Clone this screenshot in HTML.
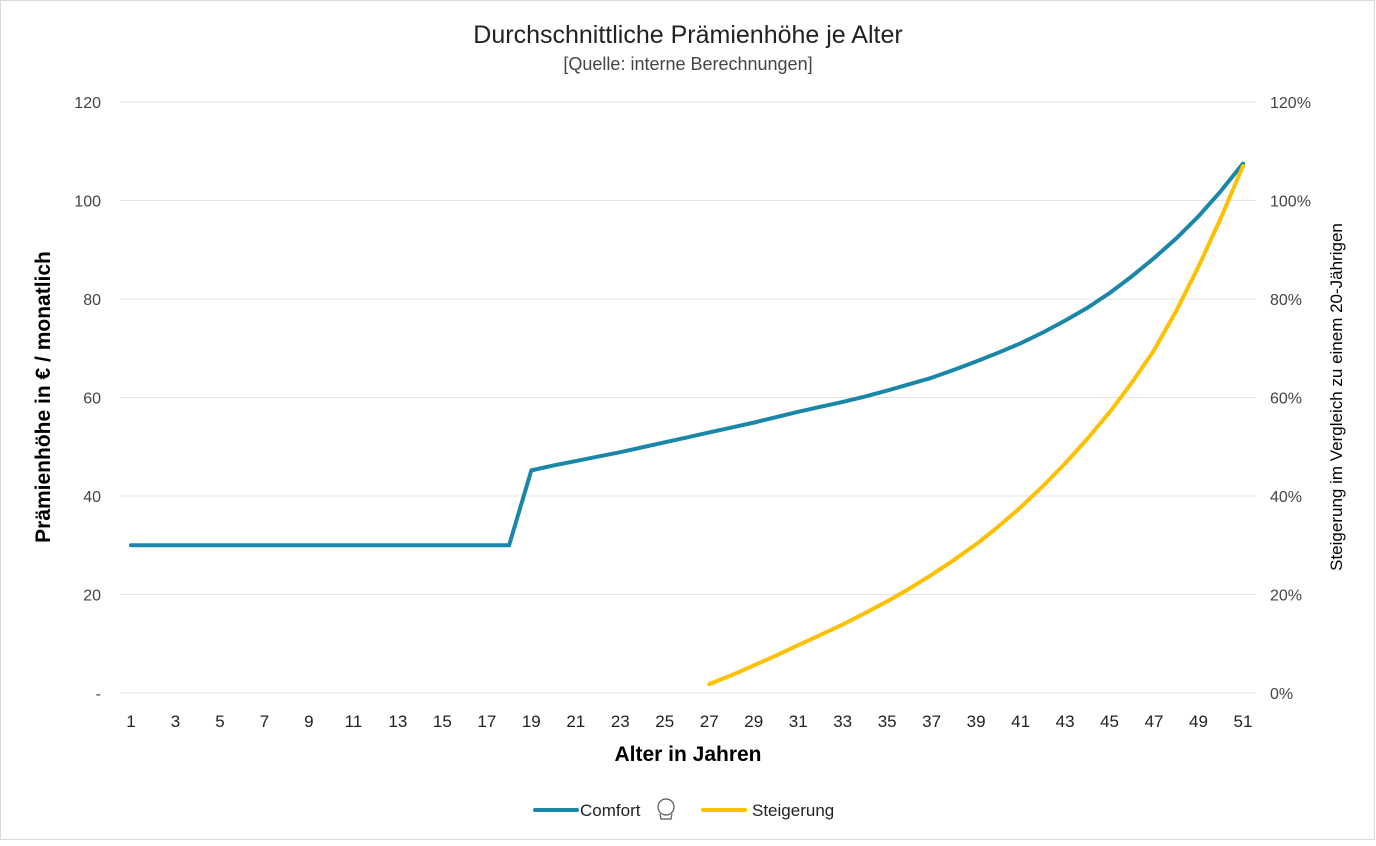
<!DOCTYPE html>
<html><head><meta charset="utf-8"><style>
html,body{margin:0;padding:0;background:#fff}
body{width:1376px;height:841px;overflow:hidden;font-family:"Liberation Sans",sans-serif}
</style></head><body>
<svg id="chart" width="1376" height="841" xmlns="http://www.w3.org/2000/svg" font-family="Liberation Sans, sans-serif">
<rect x="0.5" y="0.5" width="1374" height="839" fill="#fff" stroke="#d9d9d9"/>
<text x="688" y="43" text-anchor="middle" font-size="25" fill="#222">Durchschnittliche Prämienhöhe je Alter</text>
<text x="688" y="70" text-anchor="middle" font-size="18" fill="#444">[Quelle: interne Berechnungen]</text>
<g id="grid"></g>
<g id="axes"></g>
<g id="series"></g>
<text x="688" y="761" text-anchor="middle" font-size="21" font-weight="bold" fill="#000">Alter in Jahren</text>
<text transform="translate(50,397) rotate(-90)" text-anchor="middle" font-size="21" font-weight="bold" fill="#000">Prämienhöhe in € / monatlich</text>
<text transform="translate(1342,397) rotate(-90)" text-anchor="middle" font-size="17" fill="#000">Steigerung im Vergleich zu einem 20-Jährigen</text>
<g>
 <g>
  <line x1="535" y1="810" x2="577" y2="810" stroke="#1a86a8" stroke-width="4" stroke-linecap="round"/>
  <text x="580" y="816" font-size="17" fill="#222">Comfort</text>
  <g fill="none" stroke="#555" stroke-width="1.2">
   <circle cx="666" cy="807" r="8"/><path d="M660 814 L661 819 L671 819 L672 814"/>
  </g>
 </g>
 <g>
  <line x1="703" y1="810" x2="745" y2="810" stroke="#ffc000" stroke-width="4" stroke-linecap="round"/>
  <text x="752" y="816" font-size="17" fill="#222">Steigerung</text>
 </g>
</g>
</svg>
<script>
const comfortAges=[1,2,3,4,5,6,7,8,9,10,11,12,13,14,15,16,17,18,19,20,21,22,23,24,25,26,27,28,29,30,31,32,33,34,35,36,37,38,39,40,41,42,43,44,45,46,47,48,49,50,51];
const comfortValues=[30,30,30,30,30,30,30,30,30,30,30,30,30,30,30,30,30,30,45.2,46.2,47.1,48.0,48.9,49.9,50.9,51.9,52.9,53.9,54.9,56.0,57.1,58.1,59.1,60.2,61.4,62.7,64.0,65.6,67.3,69.1,71.0,73.2,75.6,78.2,81.2,84.6,88.3,92.3,96.8,101.9,107.5];
const steigerungAges=[27,28,29,30,31,32,33,34,35,36,37,38,39,40,41,42,43,44,45,46,47,48,49,50,51];
const steigerungValues=[1.8,3.6,5.6,7.6,9.7,11.8,13.9,16.2,18.6,21.2,24.0,27.0,30.2,33.8,37.7,42.0,46.6,51.6,57.0,63.0,69.6,77.6,86.6,96.4,107];
const yTicks=[0,20,40,60,80,100,120];
const yTickLabels=["-","20","40","60","80","100","120"];
const y2Ticks=[0,20,40,60,80,100,120];
const y2TickLabels=["0%","20%","40%","60%","80%","100%","120%"];
const xTickLabels=[1,3,5,7,9,11,13,15,17,19,21,23,25,27,29,31,33,35,37,39,41,43,45,47,49,51];

const NS="http://www.w3.org/2000/svg";
const X0=131,X1=1243,Y0=693,Y1=102,L=120,R=1256;
const xS=a=>X0+(a-1)*(X1-X0)/50;
const yS=v=>Y0-v*(Y0-Y1)/120;
const y2S=v=>Y0-v*(Y0-Y1)/120;
function mk(t,at,p){const e=document.createElementNS(NS,t);for(const k in at)e.setAttribute(k,at[k]);p.appendChild(e);return e;}
const grid=document.getElementById('grid'),axes=document.getElementById('axes'),ser=document.getElementById('series');
yTicks.forEach((v,i)=>{
 const l=mk('line',{x1:L,x2:R,y1:yS(v),y2:yS(v),stroke:'#e3e3e3','stroke-width':1},grid);
 
 
 const t=mk('text',{x:101,y:yS(v)+6,'text-anchor':'end','font-size':16,fill:'#444'},axes);
 t.textContent=yTickLabels[i];
 
 
});
y2Ticks.forEach((v,i)=>{
 const t=mk('text',{x:1270,y:y2S(v)+6,'font-size':16,fill:'#444'},axes);
 t.textContent=y2TickLabels[i];
 
 
});
xTickLabels.forEach(a=>{
 const t=mk('text',{x:xS(a),y:727,'text-anchor':'middle','font-size':17,fill:'#222'},axes);
 t.textContent=a;
 
 
});
const p1=mk('polyline',{points:comfortAges.map((a,i)=>xS(a)+','+yS(comfortValues[i])).join(' '),fill:'none',stroke:'#1a86a8','stroke-width':4,'stroke-linejoin':'round','stroke-linecap':'round'},ser);


const p2=mk('polyline',{points:steigerungAges.map((a,i)=>xS(a)+','+y2S(steigerungValues[i])).join(' '),fill:'none',stroke:'#ffc000','stroke-width':4,'stroke-linejoin':'round','stroke-linecap':'round'},ser);


</script>
</body></html>
